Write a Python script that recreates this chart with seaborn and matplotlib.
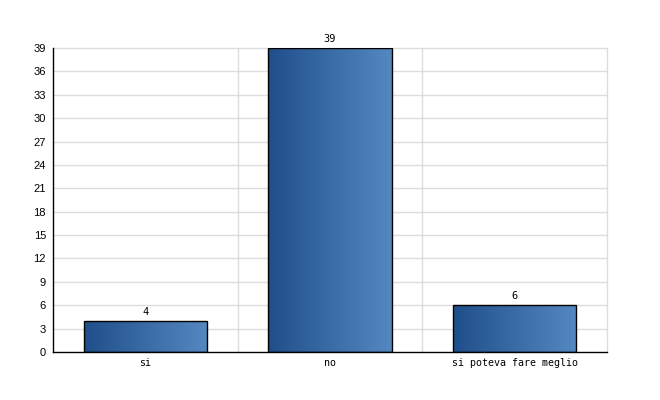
import matplotlib
matplotlib.use("Agg")
import matplotlib.pyplot as plt
import seaborn as sns
import numpy as np
import pandas as pd
from matplotlib.colors import LinearSegmentedColormap

categories = ["si", "no", "si poteva fare meglio"]
values = [4, 39, 6]
y_ticks = list(range(0, 40, 3))

df = pd.DataFrame({"risposta": categories, "conteggio": values})

sns.set_style("white")
plt.rcParams["text.color"] = "black"
plt.rcParams["xtick.color"] = "black"
plt.rcParams["ytick.color"] = "black"

fig = plt.figure(figsize=(6.6, 4.0), dpi=100)
ax = fig.add_axes([53 / 660, 48 / 400, 554 / 660, 304 / 400])

sns.barplot(data=df, x="risposta", y="conteggio", ax=ax, width=0.667,
            color="#3a6aa6", edgecolor="black", linewidth=1, saturation=1)

ax.set_xlim(-0.5, 2.5)
ax.set_ylim(0, 39)
ax.set_yticks(y_ticks)
ax.set_xlabel("")
ax.set_ylabel("")

# grid: horizontal at every tick, vertical at category boundaries
for t in y_ticks[1:]:
    ax.axhline(t, color="#dddddd", lw=1, zorder=0, clip_on=False)
for b in [0.5, 1.5, 2.5]:
    ax.axvline(b, color="#dddddd", lw=1, zorder=0, clip_on=False)

# gradient fill for bars
cmap = LinearSegmentedColormap.from_list("grad", ["#1f4f8b", "#5488c0"])
grad = np.linspace(0, 1, 256).reshape(1, -1)
for p in ax.patches:
    x0, y0 = p.get_x(), p.get_y()
    w, h = p.get_width(), p.get_height()
    im = ax.imshow(grad, cmap=cmap, aspect="auto", extent=[x0, x0 + w, y0, y0 + h],
                   zorder=2, interpolation="bilinear")
    im.set_clip_path(p)
    p.set_facecolor("none")
    p.set_zorder(3)

ax.set_xlim(-0.5, 2.5)
ax.set_ylim(0, 39)

for c in ax.containers:
    ax.bar_label(c, labels=[str(v) for v in values], padding=3,
                 fontsize=7.5, family="DejaVu Sans Mono", color="black")

for s in ["top", "right"]:
    ax.spines[s].set_visible(False)
ax.spines["left"].set_color("black")
ax.spines["bottom"].set_color("black")
ax.spines["left"].set_linewidth(1)
ax.spines["bottom"].set_linewidth(1)

ax.tick_params(axis="y", length=0, pad=5, labelsize=8, labelcolor="black")
ax.tick_params(axis="x", length=0, pad=4, labelsize=7.2, labelcolor="black")
for lbl in ax.get_yticklabels():
    lbl.set_family("Liberation Sans")
for lbl in ax.get_xticklabels():
    lbl.set_family("DejaVu Sans Mono")

fig.savefig("out.png", dpi=100)
